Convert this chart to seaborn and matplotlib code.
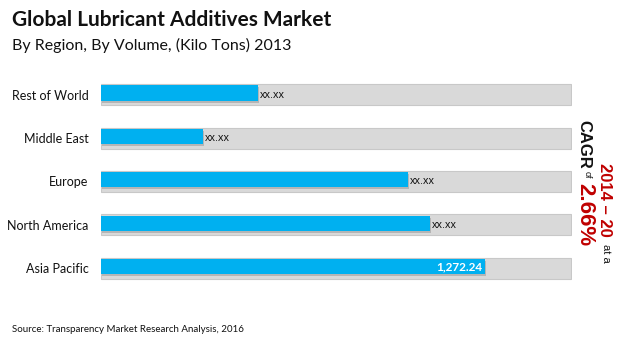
import matplotlib
matplotlib.use("Agg")
import matplotlib.pyplot as plt
import matplotlib.patheffects as pe
import seaborn as sns
import pandas as pd

regions = ["Rest of World", "Middle East", "Europe", "North America", "Asia Pacific"]
volumes = [520, 338, 1017, 1090, 1272.24]
labels = ["xx.xx", "xx.xx", "xx.xx", "xx.xx", "1,272.24"]
track_max = 1557

sns.set_theme(style="white")
plt.rcParams["font.family"] = ["Lato", "DejaVu Sans"]

df = pd.DataFrame({"region": regions, "volume": volumes, "track": [track_max] * len(regions)})

fig = plt.figure(figsize=(6.2, 3.45), dpi=100)
ax = fig.add_axes([101 / 620, 1 - 290 / 345, 471 / 620, 217 / 345])

sns.barplot(data=df, x="track", y="region", order=regions, color="#d9d9d9",
            width=0.48, ax=ax, edgecolor="#c8c8c8", linewidth=0.8, saturation=1)
n_track = len(ax.patches)
sns.barplot(data=df, x="volume", y="region", order=regions, color="#00b0f0",
            width=0.35, ax=ax, saturation=1, linewidth=0)
for p in ax.patches[n_track:]:
    p.set_y(p.get_y() - 0.04)
    p.set_path_effects([pe.SimplePatchShadow(offset=(0.5, -1.5), shadow_rgbFace="#8a8a8a", alpha=0.45), pe.Normal()])

for i, (v, lab) in enumerate(zip(volumes, labels)):
    if i == len(volumes) - 1:
        ax.text(v - 10, i - 0.04, lab, ha="right", va="center", color="white",
                fontsize=8.5, fontweight="bold", family=["Lato", "DejaVu Sans"])
    else:
        ax.text(v + 6, i - 0.0, lab, ha="left", va="center", color="#111111",
                fontsize=7.8, family=["Liberation Sans"])

ax.set_xlim(0, track_max + 2)
ax.set_ylim(4.5, -0.5)
ax.set_xlabel("")
ax.set_ylabel("")
ax.set_xticks([])
ax.tick_params(axis="y", length=0, pad=9, labelsize=9, labelcolor="#111111")
sns.despine(ax=ax, left=True, bottom=True)

fig.text(12 / 620, 1 - 20 / 345, "Global Lubricant Additives Market", fontsize=15,
         fontweight="bold", ha="left", va="center", color="#111111")
fig.text(12 / 620, 1 - 45 / 345, "By Region, By Volume, (Kilo Tons) 2013", fontsize=11.5,
         ha="left", va="center", color="#111111")
fig.text(12 / 620, 1 - 330 / 345, "Source: Transparency Market Research Analysis, 2016",
         fontsize=7, ha="left", va="center", color="#111111")

red = "#c00000"
cagr_font = ["Liberation Sans", "DejaVu Sans"]
fig.text(584 / 620, 1 - 120 / 345, "CAGR", rotation=-90, fontsize=12, fontweight="bold",
         ha="center", va="top", color="#111111", family=cagr_font)
fig.text(587 / 620, 1 - 171 / 345, "of", rotation=-90, fontsize=6.5,
         ha="center", va="top", color="#111111", family=cagr_font)
fig.text(585 / 620, 1 - 183 / 345, "2.66%", rotation=-90, fontsize=16, fontweight="bold",
         ha="center", va="top", color=red, family=cagr_font)
fig.text(605 / 620, 1 - 163 / 345, "2014 \u2013 20", rotation=-90, fontsize=12, fontweight="bold",
         ha="center", va="top", color=red, family=cagr_font)
fig.text(606 / 620, 1 - 244 / 345, "at a", rotation=-90, fontsize=8,
         ha="center", va="top", color="#111111", family=cagr_font)

fig.savefig("out.png", dpi=100)
